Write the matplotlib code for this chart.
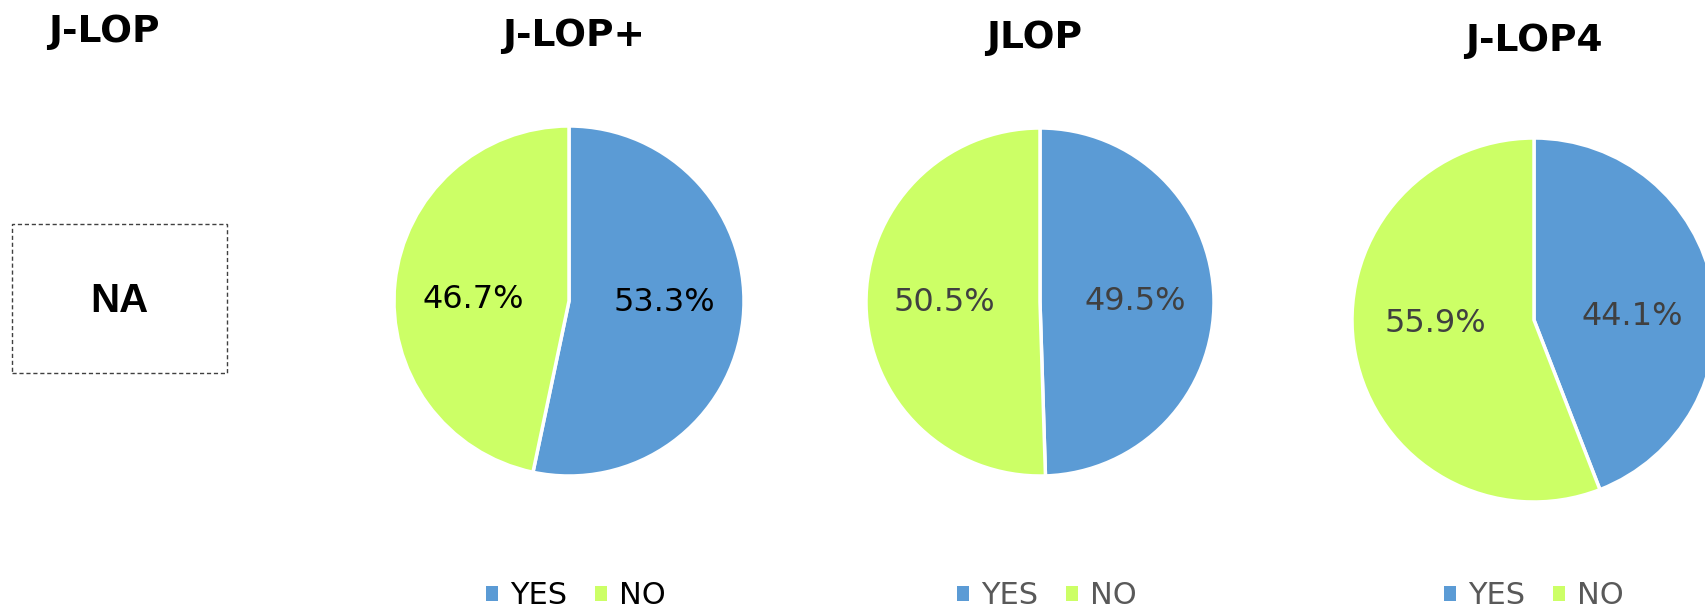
import matplotlib.pyplot as plt
from matplotlib.patches import Patch, Rectangle

# survey answers per product (share of respondents, %)
titles = ["J-LOP+", "JLOP", "J-LOP4"]
answers = ["YES", "NO"]
yes_share = [53.3, 49.5, 44.1]
no_share = [46.7, 50.5, 55.9]

blue = "#5B9BD5"
green = "#CCFF66"
text_colors = ["black", "#404040", "#404040"]

W, H = 1706, 608
fig = plt.figure(figsize=(W / 100, H / 100), dpi=100)

# pie centre (px) and radius (px) for each panel
layout = [(569, 301, 175), (1040, 302, 174), (1534, 320, 182)]
title_pos = [(574, 36), (1034, 38), (1534, 41)]
legend_x = [576, 1047, 1534]


def px(x, y):
    return x / W, 1 - y / H


# first panel has no data
fig.text(*px(104, 32), "J-LOP", fontsize=27, fontweight="bold",
         ha="center", va="center")
fig.patches.append(Rectangle(px(12, 373), 215 / W, 149 / H,
                             transform=fig.transFigure, fill=False,
                             linestyle=(0, (3, 2)), linewidth=1,
                             edgecolor="#404040"))
fig.text(*px(119, 301), "NA", fontsize=29, fontweight="bold",
         family="Liberation Sans", ha="center", va="center")

for i, title in enumerate(titles):
    cx, cy, r = layout[i]
    ax = fig.add_axes([(cx - r) / W, (H - cy - r) / H, 2 * r / W, 2 * r / H])
    wedges, texts, autotexts = ax.pie(
        [yes_share[i], no_share[i]],
        colors=[blue, green],
        startangle=90,
        counterclock=False,
        autopct="%.1f%%",
        pctdistance=0.55,
        wedgeprops=dict(edgecolor="white", linewidth=2.5),
        textprops=dict(fontsize=23, color=text_colors[i]),
    )
    # keep the percentages close to the horizontal midline
    for t in autotexts:
        x, y = t.get_position()
        t.set_position((x, y * 0.2))
    ax.set_xlim(-1, 1)
    ax.set_ylim(-1, 1)
    ax.set_aspect("equal")

    tx, ty = title_pos[i]
    fig.text(*px(tx, ty), title, fontsize=27, fontweight="bold",
             ha="center", va="center")

    handles = [Patch(facecolor=blue), Patch(facecolor=green)]
    fig.legend(handles, answers, loc="center",
               bbox_to_anchor=px(legend_x[i], 596), ncol=2, frameon=False,
               fontsize=22, handlelength=0.4, handleheight=0.4,
               handletextpad=0.4, columnspacing=0.9, borderpad=0,
               labelcolor=text_colors[i] if i == 0 else "#595959")

fig.savefig("out.png", dpi=100)
